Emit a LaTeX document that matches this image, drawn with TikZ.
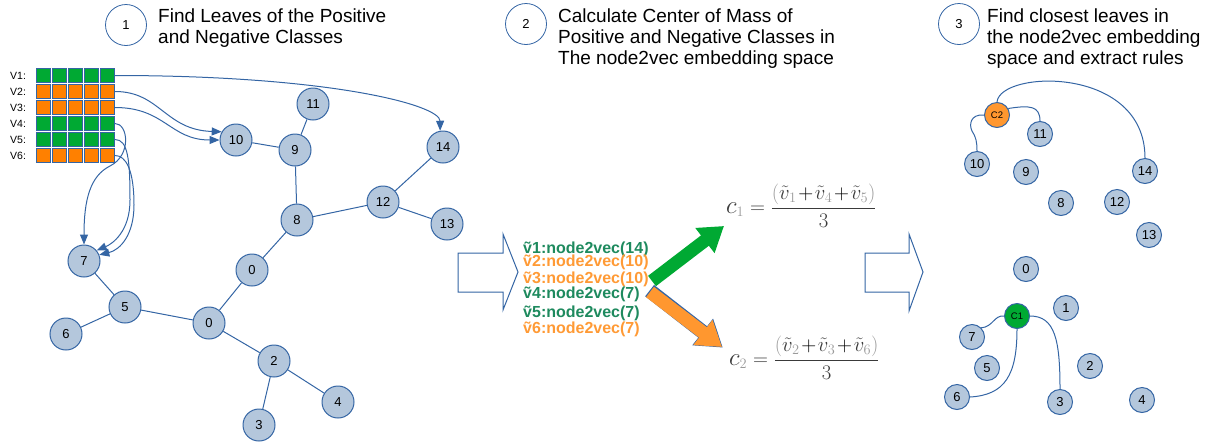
\documentclass[tikz,border=0pt]{standalone}
\usepackage{fontspec}
\setmainfont{Liberation Sans}
\usetikzlibrary{arrows.meta}
\definecolor{nodefill}{HTML}{B4C7DC}
\definecolor{lineblue}{HTML}{3465A4}
\definecolor{cgreen}{HTML}{00A933}
\definecolor{corange}{HTML}{FF8000}
\definecolor{lorange}{HTML}{FF972F}
\definecolor{tgreen}{HTML}{1E8A5E}
\definecolor{torange}{HTML}{FF9A35}
\definecolor{fdark}{HTML}{3A3A3A}
\definecolor{flight}{HTML}{9A9A9A}
\newcommand{\vt}[1]{\color{fdark}\tilde{v}_{\color{flight}#1}}
\newcommand{\cmass}[4]{$\medmuskip=1.5mu\displaystyle\color{fdark}\scalebox{1.2}{$c$}_{\color{flight}#1}\color{fdark}=\frac{\color{flight}\Big(\vt{#2}\color{black}+\vt{#3}\color{black}+\vt{#4}\color{flight}\Big)}{\color{fdark}3}$}
\begin{document}
\begin{tikzpicture}[x=1pt,y=-1pt,
  gnode/.style={circle, draw=lineblue, fill=nodefill, line width=1pt, minimum size=32pt, inner sep=0pt, font=\fontsize{13}{13}\selectfont},
  snode/.style={gnode, minimum size=25pt},
  cnode/.style={snode, font=\fontsize{9.5}{9.5}\selectfont},
  edge/.style={draw=lineblue, line width=1pt},
  arr/.style={edge, -{Triangle[length=10pt,width=8pt]}},
  gcell/.style={draw=lineblue, line width=0.6pt, fill=cgreen, minimum size=14.5pt, inner sep=0pt},
  ocell/.style={gcell, fill=corange},
  vlabel/.style={anchor=west, inner sep=0pt, font=\fontsize{10.5}{10.5}\selectfont},
  stepnum/.style={circle, draw=lineblue, line width=0.8pt, minimum size=41pt, inner sep=0pt, font=\fontsize{13}{13}\selectfont},
  title/.style={anchor=north west, inner sep=0pt, align=left, font=\fontsize{19}{21}\selectfont},
  vtext/.style={anchor=base west, inner sep=0pt, font=\fontsize{16}{16}\selectfont\bfseries},
  formula/.style={anchor=west, inner sep=0pt, font=\fontsize{20.74}{24}\selectfont},
  hollow/.style={draw=lineblue, line width=1pt, fill=white, line join=miter}
]
\useasboundingbox (0,0) rectangle (1217,445);

% step headers
\node[stepnum] (s1) at (126,25) {1};
\node[title] (t1) at (158,9) {Find Leaves of the Positive\\and Negative Classes};
\node[stepnum] (s2) at (526,24) {2};
\node[title] (t2) at (558,9) {Calculate Center of Mass of\\Positive and Negative Classes in\\The node2vec embedding space};
\node[stepnum] (s3) at (959,24) {3};
\node[title] (t3) at (987,9) {Find closest leaves in\\the node2vec embedding\\space and extract rules};

% matrix
\foreach \r/\st in {1/gcell,2/ocell,3/ocell,4/gcell,5/gcell,6/ocell}{
  \node[vlabel] (v\r) at (10,{75.5+16*(\r-1)}) {V\r:};
  \foreach \c in {1,...,5}{
    \node[\st] (c\r\c) at ({43.5+16*(\c-1)},{75.5+16*(\r-1)}) {};
  }
}

% left tree
\node[gnode] (n11) at (313,104) {11};
\node[gnode] (n10) at (236,140) {10};
\node[gnode] (n9) at (295,150) {9};
\node[gnode] (n14) at (443,147) {14};
\node[gnode] (n12) at (383,202) {12};
\node[gnode] (n13) at (447,224) {13};
\node[gnode] (n8) at (297,220) {8};
\node[gnode] (n0a) at (252,270) {0};
\node[gnode] (n0b) at (209,323) {0};
\node[gnode] (n7) at (84,261) {7};
\node[gnode] (n5) at (125,307) {5};
\node[gnode] (n6) at (66,334) {6};
\node[gnode] (n2) at (274,361) {2};
\node[gnode] (n3) at (259,425) {3};
\node[gnode] (n4) at (338,402) {4};

\draw[edge] (n10) -- (n9);
\draw[edge] (n9) -- (n11);
\draw[edge] (n9) -- (n8);
\draw[edge] (n8) -- (n12);
\draw[edge] (n12) -- (n14);
\draw[edge] (n12) -- (n13);
\draw[edge] (n8) -- (n0a);
\draw[edge] (n0a) -- (n0b);
\draw[edge] (n0b) -- (n5);
\draw[edge] (n5) -- (n7);
\draw[edge] (n5) -- (n6);
\draw[edge] (n0b) -- (n2);
\draw[edge] (n2) -- (n3);
\draw[edge] (n2) -- (n4);

% matrix rows to leaves
\draw[arr] (c15.east) .. controls (330,75.5) and (440,105) .. (n14.100);
\draw[arr] (c25.east) .. controls (160,91.5) and (165,130) .. (n10.150);
\draw[arr] (c35.east) .. controls (165,107.5) and (170,140) .. (n10.west);
\draw[arr] (c45.east) .. controls (128,123.5) and (132,155) .. (110,166) .. controls (90,176) and (84,200) .. (n7.north);
\draw[arr] (c55.east) .. controls (128,139.5) and (130,160) .. (130,200) .. controls (130,232) and (112,244) .. (n7.40);
\draw[arr] (c65.east) .. controls (126,155.5) and (134,170) .. (134,205) .. controls (134,235) and (120,250) .. (n7.22);

% hollow block arrows
\draw[hollow] (458,253) -- (503,253) -- (503,234) -- (518,272) -- (503,310) -- (503,292) -- (458,292) -- cycle;
\draw[hollow] (865,253) -- (909,253) -- (909,234) -- (923,272) -- (909,311) -- (909,292) -- (865,292) -- cycle;

% list of embeddings
\node[vtext, text=tgreen] (e1) at (523,253) {\~{v}1:node2vec(14)};
\node[vtext, text=torange] (e2) at (523,266) {\~{v}2:node2vec(10)};
\node[vtext, text=torange] (e3) at (523,283) {\~{v}3:node2vec(10)};
\node[vtext, text=tgreen] (e4) at (523,298) {\~{v}4:node2vec(7)};
\node[vtext, text=tgreen] (e5) at (523,317) {\~{v}5:node2vec(7)};
\node[vtext, text=torange] (e6) at (523,333) {\~{v}6:node2vec(7)};

% thick arrows
\coordinate (ga) at (652,281);
\coordinate (gb) at (724,226);
\draw[line width=13pt, cgreen, -{Triangle[length=24pt,width=30pt]}] (ga) -- (gb);
\coordinate (oa) at (649.6,290.6);
\coordinate (ob) at (722.8,347.6);
\coordinate (oc) at (650,292);
\coordinate (od) at (722,347);
\draw[line width=14.4pt, lineblue, -{Triangle[length=25.5pt,width=32pt]}] (oa) -- (ob);
\draw[line width=13pt, lorange, -{Triangle[length=24pt,width=30pt]}] (oc) -- (od);

% formulas
\node[formula] (f1) at (726,206) {\cmass{1}{1}{4}{5}};
\node[formula] (f2) at (729,358) {\cmass{2}{2}{3}{6}};

% right panel
\node[cnode, fill=lorange] (rc2) at (997,115) {C2};
\node[snode] (r11) at (1040,134) {11};
\node[snode] (r10) at (977,164) {10};
\node[snode] (r9) at (1026,172) {9};
\node[snode] (r14) at (1145,171) {14};
\node[snode] (r8) at (1061,203) {8};
\node[snode] (r12) at (1117,202) {12};
\node[snode] (r13) at (1149,235) {13};
\node[snode] (r0) at (1026,269) {0};
\node[snode] (r1) at (1066,308) {1};
\node[cnode, fill=cgreen] (rc1) at (1017,316) {C1};
\node[snode] (r7) at (972,337) {7};
\node[snode] (r5) at (987,368) {5};
\node[snode] (r2) at (1090,366) {2};
\node[snode] (r6) at (957,397) {6};
\node[snode] (r3) at (1060,402) {3};
\node[snode] (r4) at (1142,400) {4};

\draw[edge] (rc2.north) .. controls (1000,70) and (1145,65) .. (r14.north);
\draw[edge] (rc2.30) .. controls (1030,105) and (1040,106) .. (r11.north);
\draw[edge] (rc2.west) .. controls (970,114) and (969,125) .. (972,131) .. controls (976,137) and (977,142) .. (r10.north);
\draw[edge] (rc1.west) .. controls (994,315) and (993,327) .. (r7.45);
\draw[edge] (rc1.south) .. controls (1017,375) and (1005,395) .. (r6.east);
\draw[edge] (rc1.east) .. controls (1055,316) and (1060,340) .. (r3.north);
\end{tikzpicture}
\end{document}
